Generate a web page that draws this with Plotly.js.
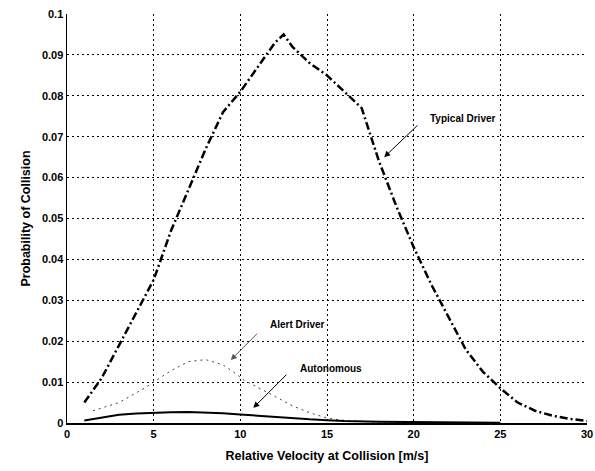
<!DOCTYPE html>
<html>
<head>
<meta charset="utf-8">
<script src="https://cdn.plot.ly/plotly-3.0.1.min.js"></script>
<style>
  body { margin: 0; background: #fff; }
  #plot-div { width: 595px; height: 471px; }
</style>
</head>
<body>
<div id="plot-div"></div>
<script>
// values
var typicalX = [1, 2, 3, 4, 5, 6, 7, 8, 9, 10, 11, 12, 12.5, 13, 14, 15, 16, 17, 18, 19, 20, 21, 22, 23, 24, 25, 26, 27, 28, 29, 30];
var typicalY = [0.005, 0.011, 0.019, 0.027, 0.035, 0.047, 0.057, 0.067, 0.076, 0.081, 0.087, 0.093, 0.095, 0.092, 0.088, 0.085, 0.081, 0.077, 0.064, 0.053, 0.043, 0.034, 0.026, 0.018, 0.0125, 0.0085, 0.005, 0.003, 0.0018, 0.001, 0.0005];

var alertX = [1.5, 3, 4.5, 5, 6, 7, 8, 9, 9.6, 10.2, 11, 12, 13, 14, 15, 16, 18, 20];
var alertY = [0.003, 0.005, 0.0086, 0.010, 0.0128, 0.015, 0.0155, 0.0142, 0.0125, 0.0105, 0.0088, 0.0065, 0.0042, 0.0025, 0.0012, 0.0006, 0.0002, 0.0001];

var autoX = [1, 2, 3, 4, 5, 6, 7, 8, 9, 10, 11, 12, 13, 14, 15, 16, 18, 20, 22, 25];
var autoY = [0.0006, 0.0013, 0.002, 0.0023, 0.0025, 0.0026, 0.0027, 0.0026, 0.0024, 0.0021, 0.0018, 0.0015, 0.0011, 0.0009, 0.0007, 0.0005, 0.0003, 0.0002, 0.0001, 0.00005];

var xTicks = [0, 5, 10, 15, 20, 25, 30];
var yTicks = [0, 0.01, 0.02, 0.03, 0.04, 0.05, 0.06, 0.07, 0.08, 0.09, 0.1];
var yTickText = ["0", "0.01", "0.02", "0.03", "0.04", "0.05", "0.06", "0.07", "0.08", "0.09", "0.1"];

var labels = [
  { text: "Typical Driver", x: 20.8, y: 0.0745, ax: 20.3, ay: 0.0731, hx: 18.3, hy: 0.065, color: "#000" },
  { text: "Alert Driver", x: 11.6, y: 0.024, ax: 11.05, ay: 0.0222, hx: 9.45, hy: 0.0154, color: "#555" },
  { text: "Autonomous", x: 13.3, y: 0.0133, ax: 12.75, ay: 0.0122, hx: 10.75, hy: 0.0037, color: "#000" }
];

var font = "Liberation Sans, Arial, sans-serif";

var traces = [
  {
    x: typicalX, y: typicalY, mode: "lines", type: "scatter",
    line: { color: "#000", width: 2.5, dash: "8px,3px,2px,3px" }
  },
  {
    x: alertX, y: alertY, mode: "lines", type: "scatter",
    line: { color: "#444", width: 1, dash: "2px,4px" }
  },
  {
    x: autoX, y: autoY, mode: "lines", type: "scatter",
    line: { color: "#000", width: 2 }
  }
];

var annotations = [];
labels.forEach(function (l) {
  annotations.push({
    x: l.hx, y: l.hy, xref: "x", yref: "y",
    ax: l.ax, ay: l.ay, axref: "x", ayref: "y",
    text: "", showarrow: true, arrowhead: 2, arrowsize: 1.2,
    arrowwidth: 1, arrowcolor: l.color
  });
  annotations.push({
    x: l.x, y: l.y, xref: "x", yref: "y", xanchor: "left", yanchor: "middle",
    text: "<b>" + l.text + "</b>", showarrow: false,
    font: { family: font, size: 10, color: "#000" }
  });
});

var layout = {
  width: 595,
  height: 471,
  margin: { l: 67, r: 8, t: 14, b: 48 },
  showlegend: false,
  plot_bgcolor: "#fff",
  paper_bgcolor: "#fff",
  font: { family: font, color: "#000" },
  xaxis: {
    range: [0, 30],
    tickvals: xTicks,
    ticktext: xTicks.map(String),
    ticklabeloverflow: "allow",
    showgrid: true,
    gridcolor: "#000",
    gridwidth: 1,
    griddash: "2px,3px",
    zeroline: false,
    showline: true,
    linecolor: "#000",
    linewidth: 1.5,
    ticks: "",
    tickfont: { family: font, size: 11, color: "#000", weight: "bold" },
    title: { text: "<b>Relative Velocity at Collision [m/s]</b>", font: { family: font, size: 12.5 }, standoff: 12 }
  },
  yaxis: {
    range: [0, 0.1],
    tickvals: yTicks,
    ticktext: yTickText,
    showgrid: true,
    gridcolor: "#000",
    gridwidth: 1,
    griddash: "2px,3px",
    zeroline: false,
    showline: true,
    linecolor: "#000",
    linewidth: 1.5,
    ticks: "",
    tickfont: { family: font, size: 11, color: "#000", weight: "bold" },
    title: { text: "<b>Probability of Collision</b>", font: { family: font, size: 12.5 }, standoff: 8 }
  },
  annotations: annotations
};

Plotly.newPlot("plot-div", traces, layout, { displayModeBar: false, staticPlot: true });
</script>
</body>
</html>
